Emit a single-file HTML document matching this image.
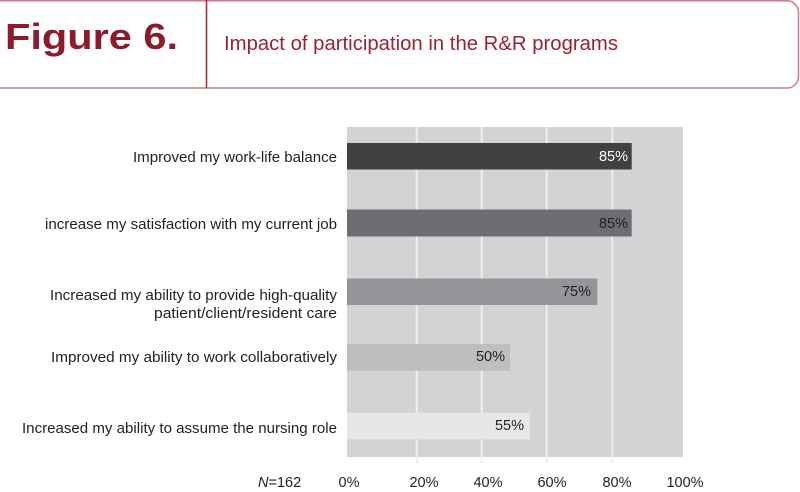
<!DOCTYPE html>
<html>
<head>
<meta charset="utf-8">
<style>
html,body{margin:0;padding:0;background:#fff;}
svg{display:block;}
text{font-family:"Liberation Sans",sans-serif;}
</style>
</head>
<body>
<svg width="800" height="492" viewBox="0 0 800 492" xmlns="http://www.w3.org/2000/svg">
  <!-- header frame -->
  <path d="M0 0.8 H787 A11.5 11.5 0 0 1 798.5 12.3 V76.5 A11.5 11.5 0 0 1 787 88 H0" fill="none" stroke="#c97b82" stroke-width="1.5"/>
  <line x1="206.5" y1="0" x2="206.5" y2="88" stroke="#a6313f" stroke-width="1.6"/>
  <text x="5" y="49" font-size="36" font-weight="bold" fill="#8e1b2b" textLength="173" lengthAdjust="spacingAndGlyphs">Figure 6.</text>
  <text x="224" y="50" font-size="20" fill="#9a2233" textLength="394" lengthAdjust="spacingAndGlyphs">Impact of participation in the R&amp;R programs</text>

  <!-- plot area -->
  <rect x="347" y="127" width="336" height="330" fill="#d1d3d4"/>
  <g stroke="#f3efe2" stroke-width="2">
    <line x1="416.7" y1="127" x2="416.7" y2="463"/>
    <line x1="481.7" y1="127" x2="481.7" y2="463"/>
    <line x1="546.7" y1="127" x2="546.7" y2="463"/>
    <line x1="612.3" y1="127" x2="612.3" y2="463"/>
  </g>

  <!-- bars -->
  <rect x="347" y="143" width="284.7" height="26.5" fill="#414042"/>
  <rect x="347" y="209.5" width="284.7" height="27" fill="#6d6e71"/>
  <rect x="347" y="278.5" width="250.3" height="26.5" fill="#939598"/>
  <rect x="347" y="344" width="163" height="26.7" fill="#bcbec0"/>
  <rect x="347" y="412.7" width="183" height="26.6" fill="#e6e7e8"/>

  <!-- value labels -->
  <g font-size="14.5" text-anchor="end">
    <text x="628" y="161" fill="#ffffff">85%</text>
    <text x="628" y="228" fill="#231f20">85%</text>
    <text x="591" y="296" fill="#231f20">75%</text>
    <text x="505" y="361" fill="#231f20">50%</text>
    <text x="524" y="430" fill="#231f20">55%</text>
  </g>

  <!-- category labels -->
  <g font-size="14.5" fill="#231f20" text-anchor="end">
    <text x="337" y="162" textLength="204" lengthAdjust="spacingAndGlyphs">Improved my work-life balance</text>
    <text x="337" y="229" textLength="292" lengthAdjust="spacingAndGlyphs">increase my satisfaction with my current job</text>
    <text x="337" y="300" textLength="287" lengthAdjust="spacingAndGlyphs">Increased my ability to provide high-quality</text>
    <text x="337" y="318" textLength="183" lengthAdjust="spacingAndGlyphs">patient/client/resident care</text>
    <text x="337" y="362" textLength="286" lengthAdjust="spacingAndGlyphs">Improved my ability to work collaboratively</text>
    <text x="337" y="433" textLength="315" lengthAdjust="spacingAndGlyphs">Increased my ability to assume the nursing role</text>
  </g>

  <!-- axis tick labels -->
  <g font-size="14.5" fill="#231f20" text-anchor="middle">
    <text x="349" y="487">0%</text>
    <text x="424" y="487">20%</text>
    <text x="488" y="487">40%</text>
    <text x="552" y="487">60%</text>
    <text x="617" y="487">80%</text>
    <text x="685" y="487">100%</text>
  </g>
  <text x="258" y="487" font-size="14.5" fill="#231f20"><tspan font-style="italic">N</tspan>=162</text>
</svg>
</body>
</html>
